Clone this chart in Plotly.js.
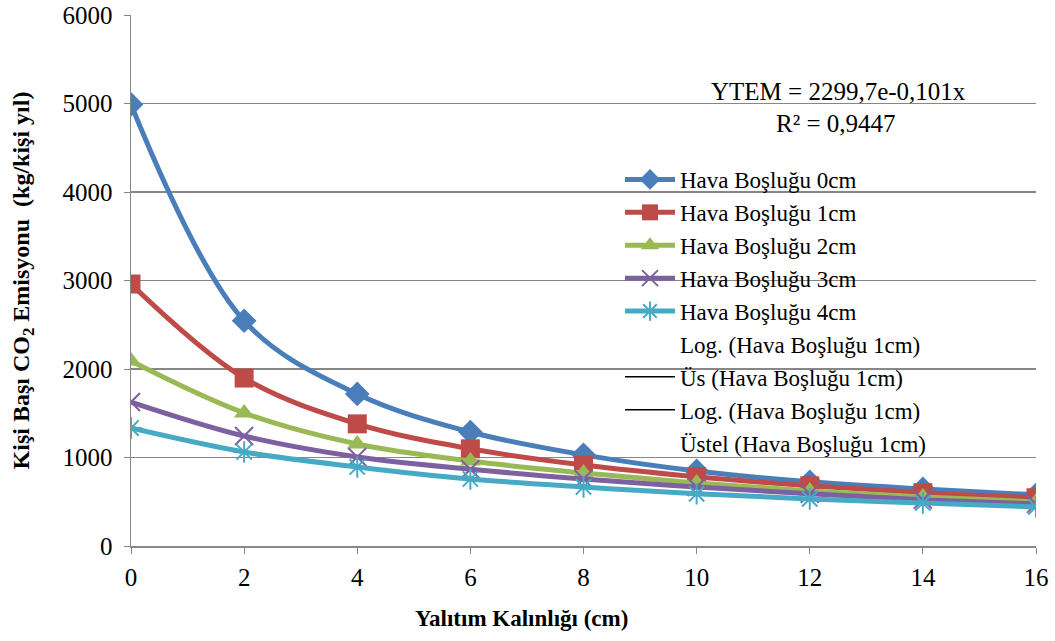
<!DOCTYPE html>
<html>
<head>
<meta charset="utf-8">
<script src="https://cdn.plot.ly/plotly-3.0.1.min.js"></script>
<style>
html,body{margin:0;padding:0;background:#fff;}
#chart{width:1055px;height:641px;}
#chart svg text, #chart svg tspan { font-family: 'Liberation Serif', 'Times New Roman', serif !important; }
</style>
</head>
<body>
<div id="chart"></div>
<script>
const thickness = [0, 2, 4, 6, 8, 10, 12, 14, 16];
const hava0 = [4990, 2545, 1718, 1288, 1030, 848, 725, 645, 578];
const hava1 = [2960, 1898, 1380, 1098, 915, 782, 680, 602, 545];
const hava2 = [2090, 1503, 1152, 960, 825, 712, 622, 555, 498];
const hava3 = [1627, 1243, 1006, 868, 757, 667, 590, 522, 476];
const hava4 = [1333, 1062, 893, 757, 667, 590, 532, 486, 442];
const seriesNames = ["Hava Boşluğu 0cm", "Hava Boşluğu 1cm", "Hava Boşluğu 2cm", "Hava Boşluğu 3cm", "Hava Boşluğu 4cm"];
const trendNames = ["Log. (Hava Boşluğu 1cm)", "Üs (Hava Boşluğu 1cm)", "Log. (Hava Boşluğu 1cm)", "Üstel (Hava Boşluğu 1cm)"];
const yTicks = [0, 1000, 2000, 3000, 4000, 5000, 6000];
const equationText = "YTEM = 2299,7e-0,101x";
const r2Text = "R² = 0,9447";
const xTitle = "Yalıtım Kalınlığı (cm)";
const yTitle = "Kişi Başı CO<sub>2</sub> Emisyonu &nbsp;(kg/kişi yıl)";

const colors = ["#4A7EBB", "#BE4B48", "#98B954", "#7D60A0", "#46AAC5"];
const symbols = ["diamond", "square", "triangle-up", "x-thin-open", "asterisk-open"];
const sizes = [19, 19, 18, 18, 18];
const allData = [hava0, hava1, hava2, hava3, hava4];

const traces = allData.map((ys, i) => ({
  x: thickness, y: ys, name: seriesNames[i], type: 'scatter', mode: 'lines+markers',
  line: {color: colors[i], width: 5, shape: 'spline', smoothing: 1},
  marker: {symbol: symbols[i], size: sizes[i], color: colors[i],
           line: {color: colors[i], width: (i >= 3 ? 2 : 0)}}
}));
const trendVisible = [false, true, true, false];
trendNames.forEach((n, i) => {
  traces.push({
    x: [null], y: [null], name: n, type: 'scatter', mode: 'lines',
    line: {color: trendVisible[i] ? '#000000' : 'rgba(0,0,0,0)', width: 1.5}
  });
});

const fam = 'Liberation Serif';
const f = (s) => ({family: fam, size: s, color: '#000'});
const layout = {
  width: 1055, height: 641,
  margin: {l: 131, r: 19, t: 15, b: 95},
  paper_bgcolor: '#fff', plot_bgcolor: '#fff',
  font: f(22),
  showlegend: true,
  legend: {x: (620 - 131) / 905, y: (546 - 158) / 531, xanchor: 'left', yanchor: 'top', bgcolor: 'rgba(0,0,0,0)',
           font: f(23), tracegroupgap: 0, itemwidth: 50},
  xaxis: {
    range: [0, 16], tickvals: thickness, ticktext: thickness.map(String),
    showgrid: false, zeroline: false, showline: true, linecolor: '#878787', linewidth: 1.5,
    ticks: 'outside', ticklen: 6, tickcolor: '#878787', tickfont: f(25), ticklabelstandoff: 2
  },
  yaxis: {
    range: [0, 6000], tickvals: yTicks,
    showgrid: true, gridcolor: '#878787', gridwidth: 1.5, zeroline: false,
    showline: true, linecolor: '#878787', linewidth: 1.5,
    ticks: 'outside', ticklen: 6, tickcolor: '#878787', tickfont: f(25), ticklabelstandoff: 6,
    title: {text: '<b>' + yTitle + '</b>', font: f(24), standoff: 26}
  },
  annotations: [
    {xref: 'paper', yref: 'paper', x: (838 - 131) / 905, y: (546 - 91) / 531, text: equationText,
     showarrow: false, xanchor: 'center', yanchor: 'middle', font: f(25)},
    {xref: 'paper', yref: 'paper', x: (836 - 131) / 905, y: (546 - 123) / 531, text: r2Text,
     showarrow: false, xanchor: 'center', yanchor: 'middle', font: f(25)},
    {xref: 'paper', yref: 'paper', x: (521 - 131) / 905, y: (546 - 618) / 531, text: '<b>' + xTitle + '</b>',
     showarrow: false, xanchor: 'center', yanchor: 'middle', font: f(23)}
  ]
};
Plotly.newPlot('chart', traces, layout, {displayModeBar: false, staticPlot: true});
</script>
</body>
</html>
